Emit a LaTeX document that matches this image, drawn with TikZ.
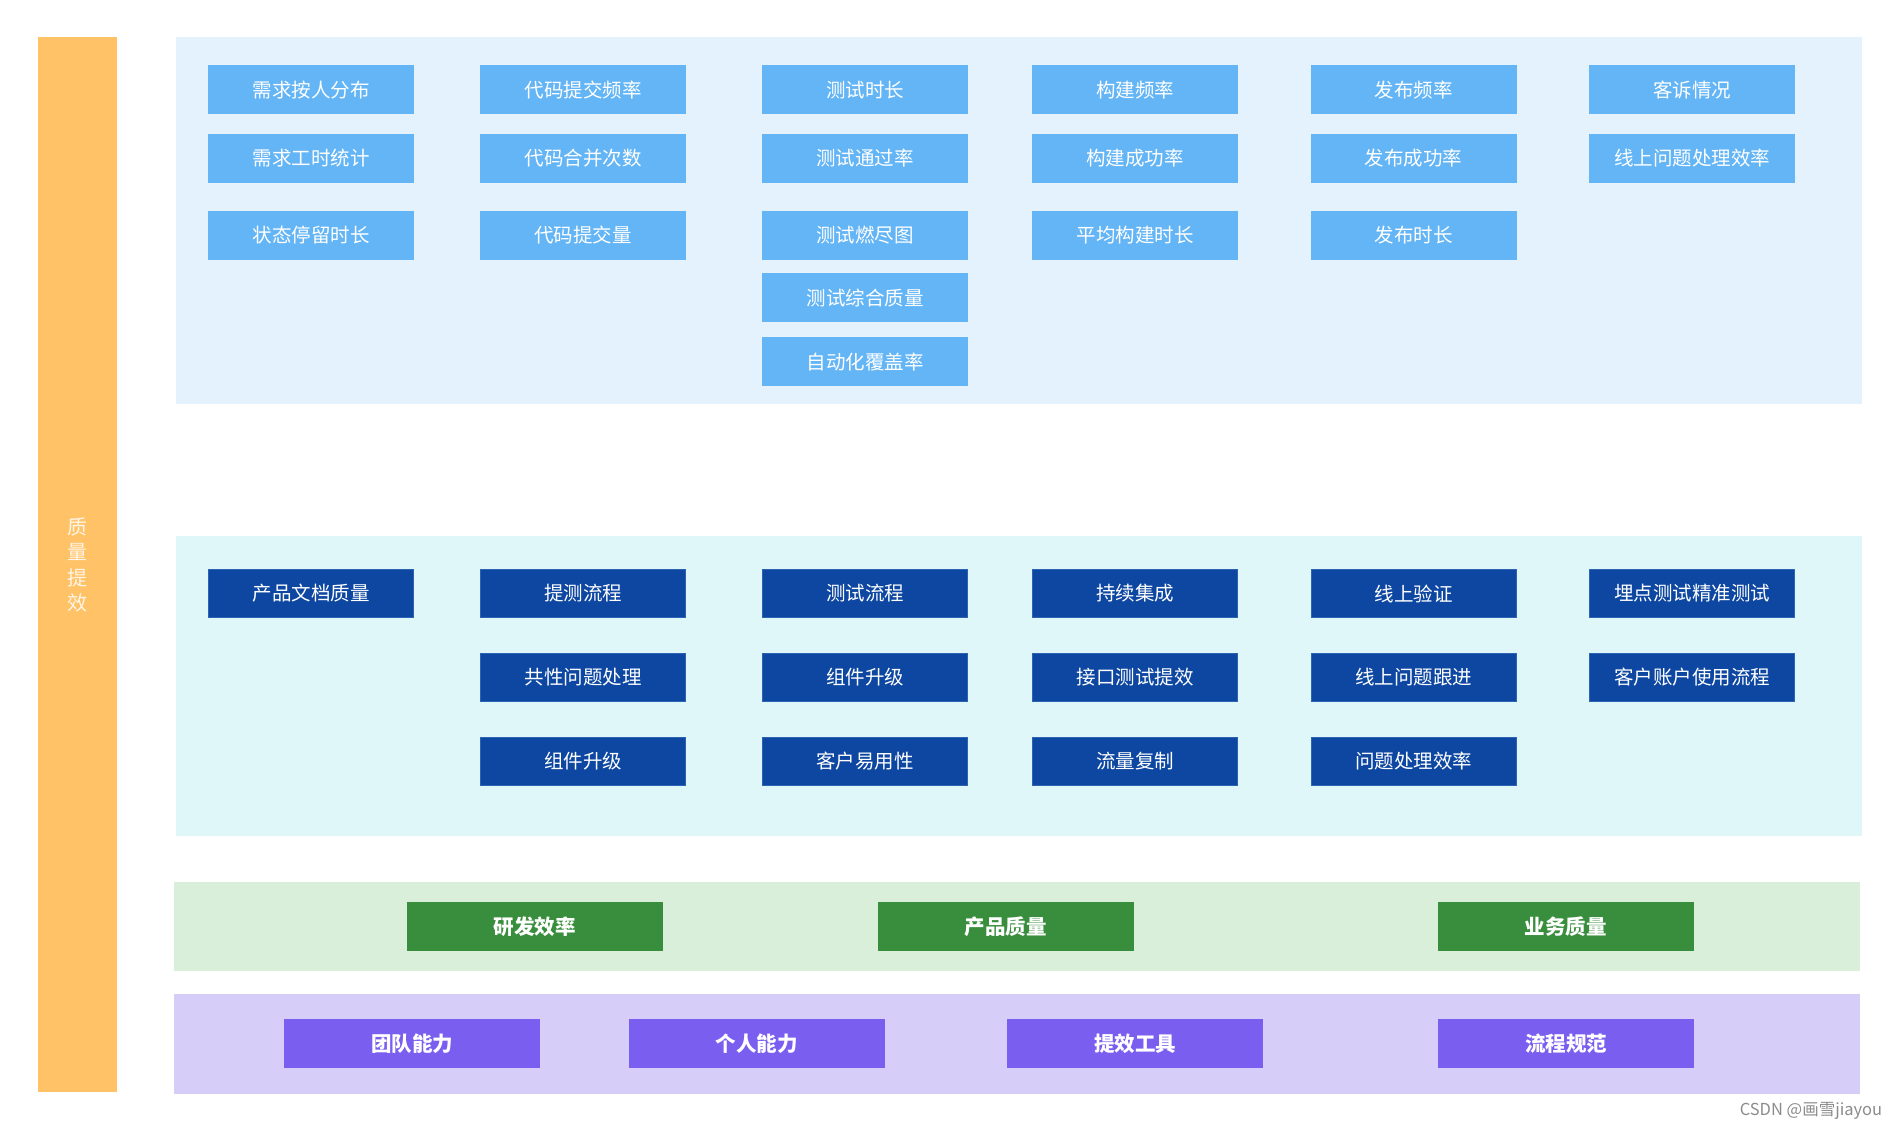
\documentclass[tikz,border=0pt]{standalone}
\usepackage{fontspec}
\setmainfont{Noto Sans CJK SC}
\definecolor{orangebar}{HTML}{FFC266}
\definecolor{toppanel}{HTML}{E3F2FD}
\definecolor{topbox}{HTML}{64B5F6}
\definecolor{midpanel}{HTML}{E0F7FA}
\definecolor{midbox}{HTML}{0D47A1}
\definecolor{midedge}{HTML}{2C63B3}
\definecolor{greenpanel}{HTML}{DAEFDA}
\definecolor{greenbox}{HTML}{388E3C}
\definecolor{purplepanel}{HTML}{D6CDF8}
\definecolor{purplebox}{HTML}{7A5EF0}
\tikzset{
  basebox/.style={inner sep=0pt, outer sep=0pt, text=white, font=\fontsize{19.5}{22}\selectfont},
  lightbox/.style={basebox, fill=topbox, minimum width=206pt, minimum height=49pt},
  darkbox/.style={basebox, fill=midbox, draw=midedge, line width=0.8pt, minimum width=205pt, minimum height=48pt},
  greenkey/.style={basebox, fill=greenbox, minimum width=256pt, minimum height=49pt, font=\fontsize{20.5}{22}\selectfont\bfseries},
  purplekey/.style={basebox, fill=purplebox, minimum width=256pt, minimum height=49pt, font=\fontsize{20.5}{22}\selectfont\bfseries},
}
\begin{document}
\begin{tikzpicture}[x=1pt,y=-1pt]
\useasboundingbox (0,0) rectangle (1899,1131);
\fill[white] (0,0) rectangle (1899,1131);
% side bar
\fill[orangebar] (37.5,37.5) rectangle (116.5,1092);
\node[inner sep=0pt, text=white, text opacity=0.85, align=center, font=\fontsize{20}{25.5}\selectfont] (side) at (77,565) {质\\量\\提\\效};
% panels
\fill[toppanel] (175.5,37.5) rectangle (1862,404.5);
\fill[midpanel] (175.5,536) rectangle (1862,836);
\fill[greenpanel] (173.5,882) rectangle (1860,971);
\fill[purplepanel] (173.5,994) rectangle (1860,1094);
% top boxes
\node[lightbox] (t11) at (311,90) {需求按人分布};
\node[lightbox] (t12) at (583,90) {代码提交频率};
\node[lightbox] (t13) at (865,90) {测试时长};
\node[lightbox] (t14) at (1135,90) {构建频率};
\node[lightbox] (t15) at (1413.5,90) {发布频率};
\node[lightbox] (t16) at (1692,90) {客诉情况};
\node[lightbox] (t21) at (311,158.5) {需求工时统计};
\node[lightbox] (t22) at (583,158.5) {代码合并次数};
\node[lightbox] (t23) at (865,158.5) {测试通过率};
\node[lightbox] (t24) at (1135,158.5) {构建成功率};
\node[lightbox] (t25) at (1413.5,158.5) {发布成功率};
\node[lightbox] (t26) at (1692,158.5) {线上问题处理效率};
\node[lightbox] (t31) at (311,235.5) {状态停留时长};
\node[lightbox] (t32) at (583,235.5) {代码提交量};
\node[lightbox] (t33) at (865,235.5) {测试燃尽图};
\node[lightbox] (t34) at (1135,235.5) {平均构建时长};
\node[lightbox] (t35) at (1413.5,235.5) {发布时长};
\node[lightbox] (t43) at (865,298) {测试综合质量};
\node[lightbox] (t53) at (865,362) {自动化覆盖率};
% middle boxes
\node[darkbox] (m11) at (311,593.5) {产品文档质量};
\node[darkbox] (m12) at (583,593.5) {提测流程};
\node[darkbox] (m13) at (865,593.5) {测试流程};
\node[darkbox] (m14) at (1135,593.5) {持续集成};
\node[darkbox] (m15) at (1413.5,593.5) {线上验证};
\node[darkbox] (m16) at (1692,593.5) {埋点测试精准测试};
\node[darkbox] (m22) at (583,677.5) {共性问题处理};
\node[darkbox] (m23) at (865,677.5) {组件升级};
\node[darkbox] (m24) at (1135,677.5) {接口测试提效};
\node[darkbox] (m25) at (1413.5,677.5) {线上问题跟进};
\node[darkbox] (m26) at (1692,677.5) {客户账户使用流程};
\node[darkbox] (m32) at (583,761.5) {组件升级};
\node[darkbox] (m33) at (865,761.5) {客户易用性};
\node[darkbox] (m34) at (1135,761.5) {流量复制};
\node[darkbox] (m35) at (1413.5,761.5) {问题处理效率};
% green boxes
\node[greenkey] (g1) at (534.5,926.5) {研发效率};
\node[greenkey] (g2) at (1005.5,926.5) {产品质量};
\node[greenkey] (g3) at (1565.5,926.5) {业务质量};
% purple boxes
\node[purplekey] (p1) at (412,1043.5) {团队能力};
\node[purplekey] (p2) at (756.5,1043.5) {个人能力};
\node[purplekey] (p3) at (1135,1043.5) {提效工具};
\node[purplekey] (p4) at (1566,1043.5) {流程规范};
% watermark
\node[inner sep=0pt, text=black!45, font=\fontsize{16.5}{18}\selectfont] (wm) at (1811,1111) {CSDN @画雪jiayou};
\end{tikzpicture}
\end{document}
